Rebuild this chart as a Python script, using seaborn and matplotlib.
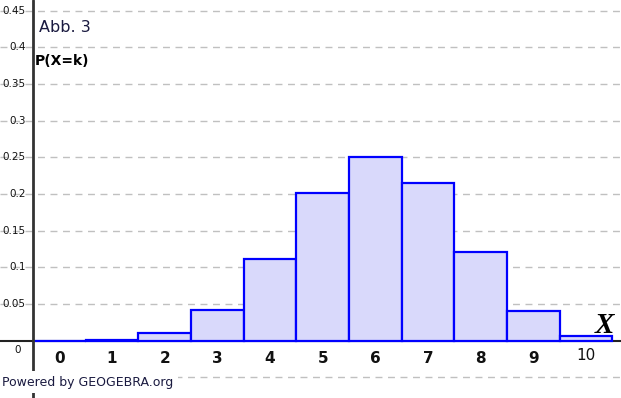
import matplotlib
matplotlib.use("Agg")
import matplotlib.pyplot as plt
import seaborn as sns
import pandas as pd

k_values = [0, 1, 2, 3, 4, 5, 6, 7, 8, 9, 10]
probabilities = [0.0001, 0.0016, 0.0106, 0.0425, 0.1115, 0.2007, 0.2508,
                 0.2150, 0.1209, 0.0403, 0.0060]
y_ticks = [-0.05, 0.05, 0.1, 0.15, 0.2, 0.25, 0.3, 0.35, 0.4, 0.45]
y_tick_labels = ["", "0.05", "0.1", "0.15", "0.2", "0.25", "0.3", "0.35", "0.4", "0.45"]
x_tick_labels = ["0", "1", "2", "3", "4", "5", "6", "7", "8", "9", "10"]

sns.set_style("white")
plt.rcParams['font.family'] = ['DejaVu Sans']

fig = plt.figure(figsize=(6.21, 3.98), dpi=100)
ax = fig.add_axes([0, 0, 1, 1])

df = pd.DataFrame({"k": k_values, "p": probabilities})

# grid
for yt in y_ticks:
    ax.axhline(yt, color="#c0c0c0", lw=1.0, ls=(0, (5, 4)), zorder=0)

# axes lines
ax.axhline(0, color="#222222", lw=1.5, zorder=1)
ax.axvline(-0.5, color="#333333", lw=2.0, zorder=4)

sns.barplot(data=df, x="k", y="p", width=1.0, color="#d9d9fb", saturation=1,
            edgecolor="#0000ff", linewidth=1.6, ax=ax, zorder=3)

ax.set_xlim(-1.127, 10.666)
ax.set_ylim(-0.0781, 0.4645)
for s in ax.spines.values():
    s.set_visible(False)
ax.set_xticks([])
ax.set_yticks([])
ax.set_xlabel("")
ax.set_ylabel("")

# y tick labels
for yt, lab in zip(y_ticks, y_tick_labels):
    if lab:
        ax.text(-0.64, yt, lab, ha="right", va="center", fontsize=7.5,
                color="#111111", zorder=5,
                bbox=dict(facecolor="none", edgecolor="none", pad=0))
ax.text(-0.8, -0.0125, "0", ha="center", va="center", fontsize=7.5, color="#111111")

# x tick labels
for i, lab in enumerate(x_tick_labels):
    if lab == "10":
        ax.text(i, -0.0200, lab, ha="center", va="center", fontsize=11, color="#111111")
    else:
        ax.text(i, -0.0236, lab, ha="center", va="center", fontsize=11,
                fontweight="bold", color="#111111")

# titles / labels
ax.text(0.063, 0.932, "Abb. 3", transform=ax.transAxes, ha="left", va="center",
        fontsize=11.5, color="#1a1a40")
ax.text(0.056, 0.847, "P(X=k)", transform=ax.transAxes, ha="left", va="center",
        fontsize=10, fontweight="bold", color="#000000")
ax.text(0.974, 0.183, "X", transform=ax.transAxes, ha="center", va="center",
        fontsize=21, fontweight="bold", fontstyle="italic",
        family=["Liberation Serif", "DejaVu Serif"], color="#000000", zorder=6)

ax.text(0.004, 0.040, "Powered by GEOGEBRA.org", transform=ax.transAxes,
        ha="left", va="center", fontsize=9, color="#1a1a40", zorder=10,
        bbox=dict(facecolor="white", edgecolor="none", pad=3))

fig.savefig("out.png", dpi=100)
